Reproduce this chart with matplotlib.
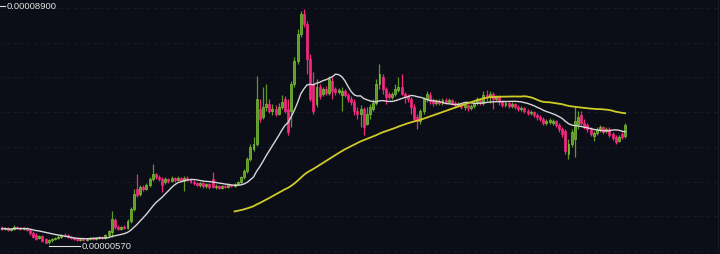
import numpy as np
import pandas as pd
import matplotlib
matplotlib.use("Agg")
import matplotlib.pyplot as plt
import matplotlib.transforms as mtransforms

# price in units of 1e-8
opens = [1173, 1102, 1137, 1067, 1102, 1173, 1137, 1102, 1137, 1067,
         960, 890, 783, 854, 748, 642, 713, 748, 783, 819,
         890, 890, 819, 783, 748, 713, 748, 713, 748, 783,
         748, 783, 819, 783, 890, 996, 1421, 1173, 1102, 1173,
         1137, 1385, 1810, 2518, 2341, 2589, 2518, 2660, 2872, 3049,
         2943, 2872, 2766, 2872, 2801, 2907, 2837, 2907, 2801, 2907,
         2872, 2766, 2730, 2660, 2730, 2624, 2695, 2872, 2589, 2624,
         2553, 2624, 2589, 2660, 2624, 2695, 2766, 2943, 3155, 3580,
         3934, 4111, 5350, 5067, 5421, 5527, 5279, 5350, 5173, 5421,
         5704, 5350, 5279, 6235, 7049, 8005, 8713, 8359, 7120, 6235,
         5527, 6129, 5881, 6058, 5916, 6341, 6058, 5952, 5846, 5987,
         5846, 5704, 5598, 5279, 5173, 5350, 4819, 5173, 5350, 5562,
         6235, 6483, 6058, 5881, 5775, 5881, 6023, 6129, 5881, 5810,
         5704, 5421, 5067, 4925, 5279, 5704, 5846, 5669, 5562, 5633,
         5562, 5669, 5598, 5669, 5562, 5492, 5527, 5421, 5492, 5385,
         5456, 5562, 5669, 5562, 5846, 5775, 5881, 5704, 5775, 5598,
         5492, 5562, 5456, 5527, 5421, 5350, 5385, 5279, 5208, 5244,
         5138, 5067, 4996, 4854, 4890, 4854, 4925, 4784, 4642, 4571,
         3757, 4111, 4288, 4819, 5138, 4854, 4784, 4642, 4394, 4500,
         4642, 4713, 4571, 4642, 4465, 4359, 4217, 4465, 4394]
highs = [1208, 1173, 1173, 1137, 1244, 1208, 1173, 1173, 1173, 1102,
         1031, 960, 890, 890, 783, 748, 783, 819, 890, 925,
         960, 925, 854, 819, 783, 783, 783, 783, 819, 819,
         819, 854, 854, 925, 1067, 1739, 1491, 1244, 1208, 1244,
         1456, 1881, 2518, 3049, 2660, 2660, 2730, 2943, 3403, 3084,
         3014, 2943, 2943, 2907, 2978, 2943, 2978, 2943, 2978, 2978,
         2907, 2837, 2766, 2766, 2766, 2730, 2730, 3120, 2695, 2660,
         2660, 2660, 2695, 2695, 2730, 2801, 2978, 3226, 3651, 4111,
         4359, 6518, 5704, 6129, 6235, 5704, 5527, 5492, 5562, 5846,
         5810, 5704, 6341, 7191, 8182, 8819, 8900, 8465, 7297, 6660,
         6412, 6235, 6129, 6164, 6518, 6483, 6129, 6093, 6129, 6058,
         5916, 5810, 5704, 5421, 5492, 5421, 5421, 5527, 5704, 6412,
         6943, 6589, 6129, 5952, 5952, 6235, 6483, 6589, 5952, 5881,
         5775, 5527, 5173, 5350, 5775, 5987, 5952, 5739, 5704, 5704,
         5739, 5739, 5739, 5704, 5633, 5598, 5562, 5562, 5527, 5527,
         5633, 5775, 5739, 5987, 6023, 5987, 5952, 5846, 5846, 5669,
         5633, 5598, 5598, 5562, 5492, 5456, 5421, 5350, 5315, 5279,
         5208, 5138, 5067, 4996, 5031, 4996, 4961, 4854, 4713, 4642,
         4288, 4642, 5421, 5279, 5279, 4996, 4854, 4713, 4571, 4713,
         4784, 4748, 4713, 4713, 4536, 4430, 4430, 4536, 4854]
lows = [1067, 1067, 1031, 1031, 1067, 1102, 1067, 1067, 1031, 890,
        783, 713, 748, 642, 606, 570, 642, 713, 748, 783,
        819, 783, 748, 713, 677, 677, 677, 677, 713, 713,
        713, 748, 748, 748, 819, 819, 1102, 1067, 1067, 1102,
        1102, 1314, 1739, 2235, 2270, 2447, 2483, 2589, 2801, 2872,
        2801, 2412, 2695, 2730, 2766, 2766, 2801, 2766, 2447, 2801,
        2730, 2660, 2624, 2589, 2553, 2553, 2518, 2553, 2518, 2518,
        2518, 2553, 2553, 2589, 2589, 2660, 2695, 2872, 3084, 3509,
        3863, 4040, 4890, 4996, 5279, 5208, 5138, 5102, 5138, 5350,
        5208, 4430, 4713, 6129, 6943, 7899, 8253, 6589, 5633, 5173,
        5421, 5704, 5810, 5846, 5846, 5704, 5846, 5881, 5279, 5775,
        5598, 5492, 5138, 4996, 4713, 4430, 4784, 4996, 5279, 5492,
        6058, 5881, 5527, 5704, 5704, 5810, 5952, 5846, 5562, 5598,
        5173, 4925, 4642, 4819, 5173, 5598, 5527, 5456, 5492, 5492,
        5492, 5527, 5562, 5492, 5385, 5421, 5350, 5315, 5279, 5315,
        5385, 5492, 5492, 5492, 5633, 5562, 5350, 5633, 5492, 5421,
        5421, 5385, 5385, 5350, 5279, 5279, 5208, 5138, 5138, 5067,
        4961, 4925, 4784, 4784, 4819, 4784, 4713, 4536, 4359, 3757,
        3580, 4005, 3651, 4642, 4784, 4642, 4536, 4394, 4217, 4430,
        4536, 4465, 4500, 4359, 4253, 4111, 4182, 4288, 4323]
closes = [1102, 1137, 1067, 1102, 1173, 1137, 1102, 1137, 1067, 960,
          819, 748, 854, 677, 606, 713, 748, 783, 819, 890,
          854, 819, 783, 748, 713, 748, 713, 748, 783, 748,
          783, 819, 783, 890, 1031, 1456, 1173, 1102, 1173, 1137,
          1385, 1810, 2341, 2306, 2589, 2518, 2660, 2872, 3049, 2943,
          2872, 2660, 2872, 2801, 2907, 2837, 2907, 2837, 2907, 2872,
          2766, 2730, 2660, 2730, 2624, 2695, 2589, 2589, 2624, 2553,
          2624, 2589, 2660, 2624, 2695, 2766, 2943, 3155, 3580, 4005,
          4111, 5704, 4996, 5421, 5527, 5279, 5350, 5173, 5421, 5598,
          5279, 4536, 6235, 7049, 8005, 8713, 8359, 7120, 5704, 5279,
          6129, 5810, 6058, 5916, 6412, 5987, 5952, 6023, 5987, 5846,
          5704, 5598, 5279, 5173, 5350, 4713, 5173, 5421, 5562, 6235,
          6589, 6058, 5775, 5775, 5881, 6058, 6129, 5881, 5775, 5704,
          5421, 4996, 4925, 5279, 5704, 5881, 5633, 5562, 5633, 5562,
          5669, 5598, 5669, 5562, 5492, 5527, 5421, 5492, 5385, 5456,
          5562, 5704, 5562, 5846, 5775, 5881, 5704, 5775, 5598, 5492,
          5562, 5456, 5527, 5421, 5350, 5385, 5279, 5208, 5244, 5138,
          5067, 4996, 4854, 4925, 4961, 4925, 4784, 4642, 4465, 3863,
          4111, 4536, 4925, 5067, 4854, 4713, 4642, 4465, 4500, 4642,
          4713, 4536, 4642, 4430, 4323, 4182, 4359, 4359, 4784]

df = pd.DataFrame({"open": opens, "high": highs, "low": lows, "close": closes})
df["ma_fast"] = df["close"].rolling(15, min_periods=1).mean()
df["ma_slow"] = df["close"].rolling(75).mean()

BG = "#0b0e16"
UP = "#5d9a22"
UP_EDGE = "#7fc23c"
DOWN = "#f2297f"
GRID = "#161a25"

fig = plt.figure(figsize=(7.2, 2.55), dpi=100, facecolor=BG)
ax = fig.add_axes([0, 0, 1, 1])
ax.set_facecolor(BG)
ax.set_xlim(-0.48, 228.1)
ax.set_ylim(217, 9244)
ax.axis("off")

# faint dashed grid
for f in np.linspace(0.965, 0.012, 8):
    ax.plot([0, 1], [f, f], transform=ax.transAxes, color=GRID, lw=0.8,
            ls=(0, (3, 3)), zorder=0)
ax.plot([0.997, 0.997], [0, 1], transform=ax.transAxes, color=GRID, lw=0.8, zorder=0)

x = np.arange(len(df))
up = df["close"] >= df["open"]
col = np.where(up, UP, DOWN)
ecol = np.where(up, UP_EDGE, DOWN)

ax.vlines(x, df["low"], df["high"], colors=col, lw=0.9, zorder=2)
body_lo = np.minimum(df["open"], df["close"])
body_h = np.maximum((df["close"] - df["open"]).abs(), 25)
ax.bar(x, body_h, bottom=body_lo, width=0.62, color=col, edgecolor=ecol,
       linewidth=0.5, zorder=3)

ax.plot(x, df["ma_fast"], color="#d6d6d6", lw=1.0, zorder=4)
ax.plot(x, df["ma_slow"], color="#cfcb26", lw=1.3, zorder=4)

# max / min price markers
font = ["Liberation Sans", "DejaVu Sans"]
hi = df["high"].max()
lo_i = int(df["low"].idxmin())
lo = df["low"].min()
trans = mtransforms.blended_transform_factory(ax.transAxes, ax.transData)
ax.plot([0, 0.007], [hi + 110, hi + 110], transform=trans, color="#e0e0e0", lw=0.8)
ax.text(0.009, hi + 110, f"{hi * 1e-8:.8f}", transform=trans, color="#e0e0e0",
        fontsize=6.8, family=font, va="center", ha="left")
ax.plot([lo_i, lo_i + 9.8], [lo - 60, lo - 60], color="#e0e0e0", lw=0.8, zorder=5)
ax.text(lo_i + 10.3, lo - 60, f"{lo * 1e-8:.8f}", color="#e0e0e0",
        fontsize=6.8, family=font, va="center", ha="left", zorder=5)

fig.savefig("out.png", dpi=100, facecolor=BG)
